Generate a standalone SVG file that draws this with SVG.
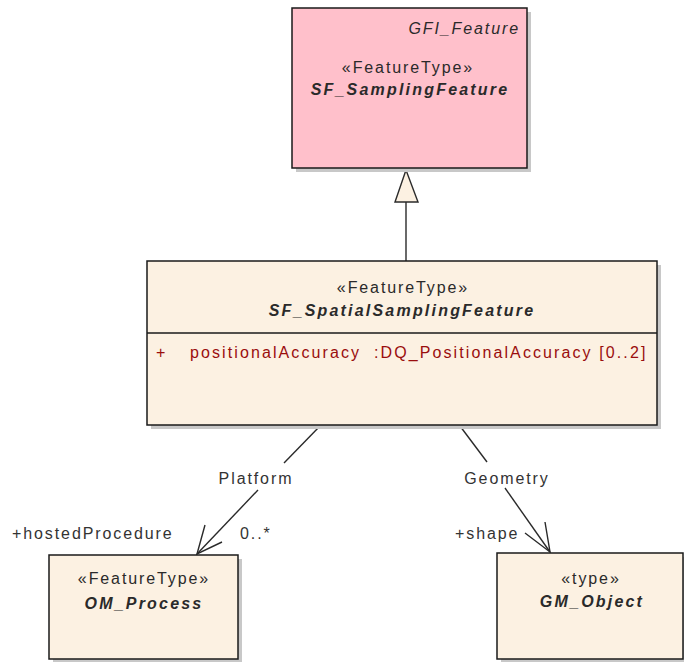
<svg xmlns="http://www.w3.org/2000/svg" width="684" height="662" viewBox="0 0 684 662">
<style>
text{font-family:"Liberation Sans",Arial,sans-serif;font-size:16px;letter-spacing:1.9px;fill:#2a2a2a}
.c{text-anchor:middle}
.bi{font-weight:bold;font-style:italic;letter-spacing:2.2px}
.i{font-style:italic}
.attr{fill:#9a0d0d;letter-spacing:2.1px}
.box{stroke:#1a1a1a;stroke-width:1.5}
.shadow{fill:#c8c8c8}
.cream{fill:#fcf1e2}
.pink{fill:#ffc0cb}
.conn{stroke:#2a2a2a;stroke-width:1.4;fill:none}
.lbl{fill:#333}
</style>
<rect width="684" height="662" fill="#ffffff"/>

<g id="connectors">
  <g id="gen">
    <line class="conn" x1="406" y1="261" x2="406" y2="202"/>
    <polygon points="406,170 395,202 418,202" fill="#fcf1e2" stroke="#2a2a2a" stroke-width="1.4"/>
  </g>
  <g id="platform">
    <line class="conn" x1="320" y1="426" x2="284" y2="463"/>
    <line class="conn" x1="258" y1="490" x2="197" y2="554"/>
    <polyline class="conn" points="205,525 197,554 222,542"/>
    <text class="lbl c" x="256" y="484">Platform</text>
    <text class="lbl" x="12" y="539">+hostedProcedure</text>
    <text class="lbl" x="240" y="539">0..*</text>
  </g>
  <g id="geometry">
    <line class="conn" x1="460" y1="426" x2="487" y2="462"/>
    <line class="conn" x1="505" y1="488" x2="550" y2="552"/>
    <polyline class="conn" points="545,522 550,552 525,533"/>
    <text class="lbl c" x="507" y="484">Geometry</text>
    <text class="lbl" x="455" y="539">+shape</text>
  </g>
</g>

<g id="SF_SamplingFeature">
  <rect class="shadow" x="296" y="12" width="235" height="160"/>
  <rect class="box pink" x="292" y="8" width="235" height="160"/>
  <text class="i" x="520" y="34" text-anchor="end">GFI_Feature</text>
  <text class="c" x="408" y="73">«FeatureType»</text>
  <text class="c bi" x="410" y="95">SF_SamplingFeature</text>
</g>

<g id="SF_SpatialSamplingFeature">
  <rect class="shadow" x="151" y="265" width="510" height="164"/>
  <rect class="box cream" x="147" y="261" width="510" height="164"/>
  <line class="box" x1="147" y1="333" x2="657" y2="333"/>
  <text class="c" x="403" y="293">«FeatureType»</text>
  <text class="c bi" x="402" y="316">SF_SpatialSamplingFeature</text>
  <text class="attr" x="156" y="358">+</text>
  <text class="attr" x="190" y="358">positionalAccuracy</text>
  <text class="attr" x="374" y="358">:DQ_PositionalAccuracy [0..2]</text>
</g>

<g id="OM_Process">
  <rect class="shadow" x="53" y="559" width="189" height="104"/>
  <rect class="box cream" x="49" y="555" width="189" height="104"/>
  <text class="c" x="144" y="584">«FeatureType»</text>
  <text class="c bi" x="144" y="609">OM_Process</text>
</g>

<g id="GM_Object">
  <rect class="shadow" x="501" y="557" width="186" height="106"/>
  <rect class="box cream" x="497" y="553" width="186" height="106"/>
  <text class="c" x="591" y="584">«type»</text>
  <text class="c bi" x="592" y="607">GM_Object</text>
</g>
</svg>
